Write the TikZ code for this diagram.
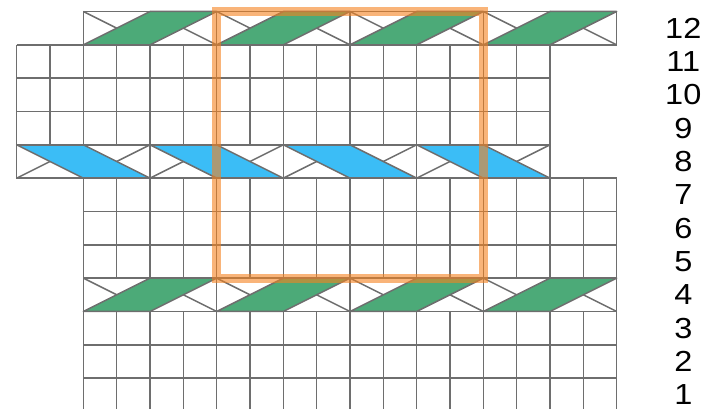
\documentclass[tikz,border=0pt]{standalone}
\usepackage{fontspec}
\setmainfont{Liberation Sans}
\definecolor{gridgray}{HTML}{6E6E6E}
\definecolor{bandgreen}{HTML}{4CAA78}
\definecolor{bandblue}{HTML}{3BBDF6}
\definecolor{frameorange}{HTML}{F5821F}
\begin{document}
\begin{tikzpicture}[
  gridline/.style={draw=gridgray, line width=1.5pt},
  greenpar/.style={fill=bandgreen, draw=gridgray, line width=1.5pt, line join=round},
  bluepar/.style={fill=bandblue, draw=gridgray, line width=1.5pt, line join=round},
  frame/.style={draw=frameorange, draw opacity=0.6, line width=9pt},
  lbl/.style={inner sep=0pt, font=\fontsize{29}{32}\selectfont}
]
\useasboundingbox (0,0) rectangle (706pt,-409pt);
\clip (0,0) rectangle (706pt,-409pt);
\begin{scope}[shift={(16.7pt,-11.5pt)}, x=33.33pt, y=-33.33pt]
  % rows 9-11
  \foreach \v in {1,...,4} \draw[gridline] (0,\v) -- (16,\v);
  \foreach \u in {0,...,16} \draw[gridline] (\u,1) -- (\u,4);
  % rows 5-7
  \foreach \v in {5,...,8} \draw[gridline] (2,\v) -- (18,\v);
  \foreach \u in {2,...,18} \draw[gridline] (\u,5) -- (\u,8);
  % rows 1-3
  \foreach \v in {9,...,12} \draw[gridline] (2,\v) -- (18,\v);
  \foreach \u in {2,...,18} \draw[gridline] (\u,9) -- (\u,12.5);
  % green bands (rows 12 and 4)
  \foreach \t in {0,8} {
    \foreach \a in {2,6,10,14} {
      \draw[gridline] (\a,\t) -- (\a+2,\t+1);
      \draw[gridline] (\a+2,\t) -- (\a+4,\t+1);
      \draw[greenpar] (\a,\t+1) -- (\a+2,\t) -- (\a+4,\t) -- (\a+2,\t+1) -- cycle;
      \draw[gridline] (\a,\t) rectangle (\a+4,\t+1);
    }
  }
  % blue band (row 8)
  \foreach \a in {0,4,8,12} {
    \draw[gridline] (\a,5) -- (\a+2,4);
    \draw[gridline] (\a+2,5) -- (\a+4,4);
    \draw[bluepar] (\a,4) -- (\a+2,4) -- (\a+4,5) -- (\a+2,5) -- cycle;
    \draw[gridline] (\a,4) rectangle (\a+4,5);
  }
  % orange frame
  \draw[frame] (6,0) rectangle (14,8);
  % row labels
  \foreach \k in {1,...,12}
    \node[lbl] (row\k) at (20,12.5-\k) {\scalebox{1.12}[1]{\k}};
\end{scope}
\end{tikzpicture}
\end{document}
